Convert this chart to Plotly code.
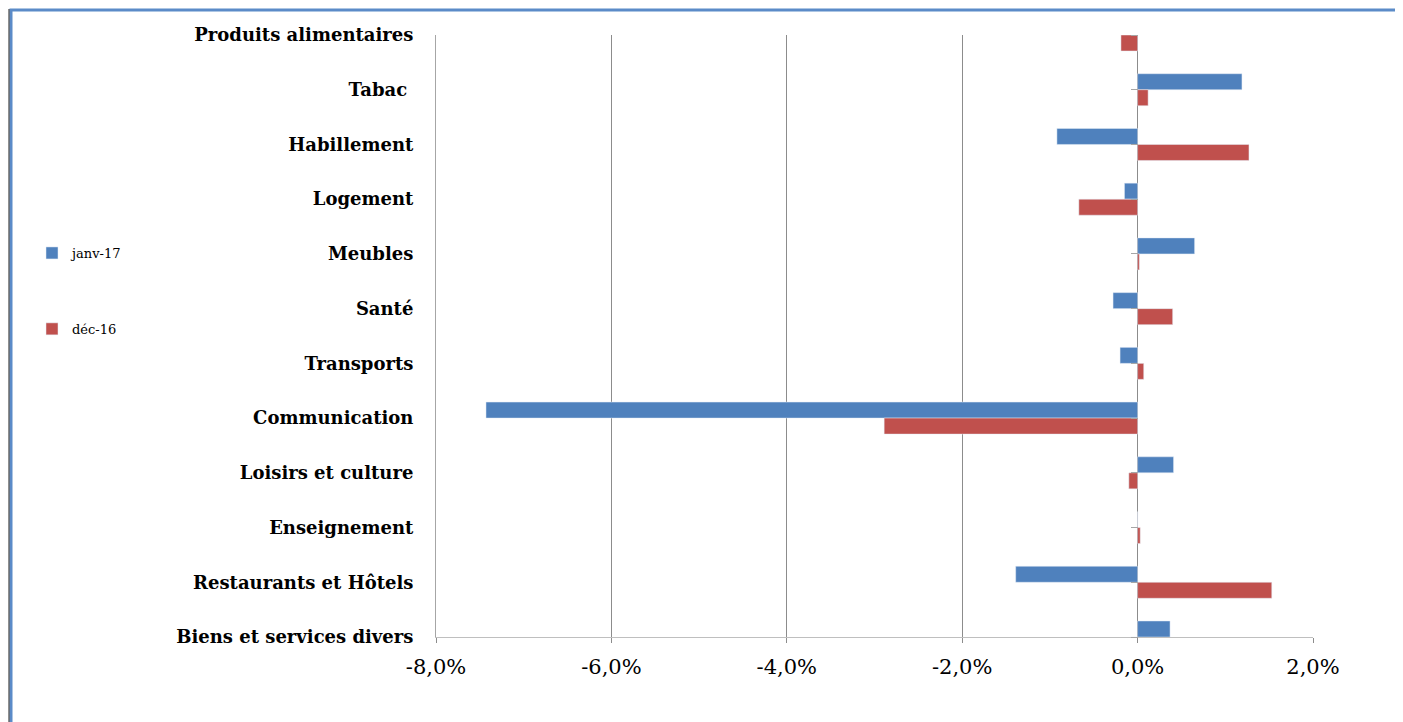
import plotly.graph_objects as go

categories = ["Produits alimentaires", "Tabac ", "Habillement", "Logement", "Meubles", "Santé",
              "Transports", "Communication", "Loisirs et culture", "Enseignement",
              "Restaurants et Hôtels", "Biens et services divers"]
janv17 = [0.0, 1.19, -0.92, -0.15, 0.65, -0.28, -0.20, -7.43, 0.41, 0.0, -1.39, 0.37]
dec16 = [-0.19, 0.12, 1.27, -0.67, 0.02, 0.40, 0.07, -2.89, -0.10, 0.03, 1.53, -0.08]
xtick_vals = [-8, -6, -4, -2, 0, 2]
xtick_text = ["-8,0%", "-6,0%", "-4,0%", "-2,0%", "0,0%", "2,0%"]
x_range = [-8, 2]

# page body adds an 8px offset; work in screen coordinates and subtract it
OFF = 8
W, H = 1403 - 2 * OFF, 722 - OFF
L, R, T, B = 436 - OFF, 1313 - OFF, 35 - OFF, 637 - OFF

def px(x):
    return (x - OFF - L) / (R - L)

def py(y):
    return (B - (y - OFF)) / (B - T)

SERIF = "DejaVu Serif, Liberation Serif, serif"
zero_pos = (0 - x_range[0]) / (x_range[1] - x_range[0])

fig = go.Figure()
fig.add_trace(go.Bar(y=categories, x=janv17, orientation="h", name="janv-17",
                     marker=dict(color="#4F81BD"), legendgroup="a"))
fig.add_trace(go.Bar(y=categories, x=dec16, orientation="h", name="déc-16",
                     marker=dict(color="#C0504D"), legendgroup="b"))
# invisible helper so the category axis crossing at zero (with its tick marks) is drawn
fig.add_trace(go.Scatter(y=categories, x=janv17, yaxis="y2", mode="markers",
                         marker=dict(opacity=0), showlegend=False, hoverinfo="skip"))

fig.update_layout(
    width=W, height=H,
    margin=dict(l=L, r=W - R, t=T, b=H - B),
    paper_bgcolor="white", plot_bgcolor="white",
    barmode="group", bargap=0.415, bargroupgap=0,
    font=dict(family=SERIF, color="black"),
    showlegend=True,
    legend=dict(x=px(32), y=py(238), xanchor="left", yanchor="top",
                traceorder="grouped", tracegroupgap=56, itemwidth=30,
                font=dict(size=13, family=SERIF),
                bgcolor="rgba(0,0,0,0)"),
    xaxis=dict(range=x_range, tickvals=xtick_vals, ticktext=xtick_text,
               showgrid=True, gridcolor="#8C8C8C", gridwidth=1,
               zeroline=True, zerolinecolor="#8C8C8C", zerolinewidth=1,
               showline=True, linecolor="#BFBFBF", linewidth=1,
               ticks="outside", ticklen=5, tickcolor="#8C8C8C",
               ticklabelstandoff=6,
               tickfont=dict(size=21, family=SERIF)),
    yaxis=dict(type="category", categoryorder="array", categoryarray=categories,
               range=[11, 0], showgrid=False, zeroline=False,
               showline=True, linecolor="#A6A6A6", linewidth=1,
               ticks="", ticklabelstandoff=18,
               tickfont=dict(size=18, family=SERIF, weight="bold")),
    yaxis2=dict(type="category", categoryorder="array", categoryarray=categories,
                matches="y", overlaying="y", anchor="free", position=zero_pos,
                side="left", showticklabels=False, showgrid=False, zeroline=False,
                showline=False, ticks="outside", ticklen=7, tickcolor="#A6A6A6"),
    shapes=[
        dict(type="rect", xref="paper", yref="paper",
             x0=px(11), x1=px(1397), y0=py(10), y1=py(760),
             line=dict(color="#5B8BC8", width=3), fillcolor="rgba(0,0,0,0)", layer="below"),
        dict(type="line", xref="paper", yref="paper",
             x0=px(9), x1=px(9), y0=py(9), y1=py(760),
             line=dict(color="#1F1F1F", width=1)),
    ],
)

fig.write_html("out.html")
